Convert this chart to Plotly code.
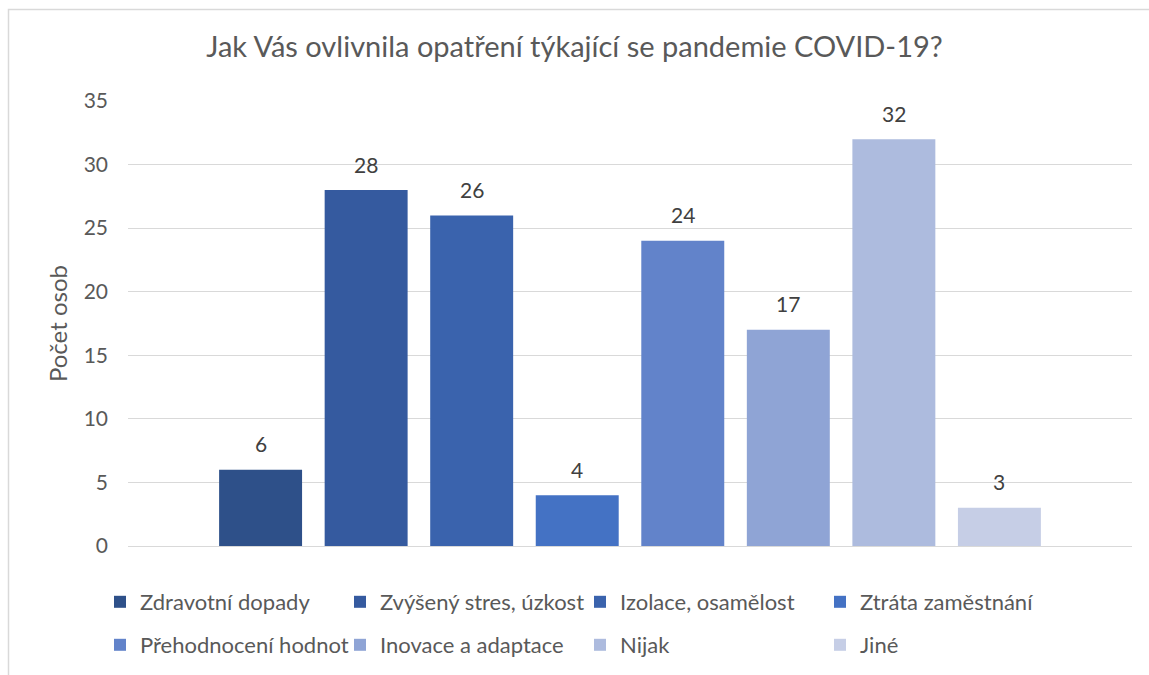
import plotly.graph_objects as go

# ---- data ----
categories = ["COVID-19"]
series_names = [
    "Zdravotní dopady",
    "Zvýšený stres, úzkost",
    "Izolace, osamělost",
    "Ztráta zaměstnání",
    "Přehodnocení hodnot",
    "Inovace a adaptace",
    "Nijak",
    "Jiné",
]
series_values = [6, 28, 26, 4, 24, 17, 32, 3]
y_tick_values = [0, 5, 10, 15, 20, 25, 30, 35]
y_tick_labels = ["0", "5", "10", "15", "20", "25", "30", "35"]
series_colors = [
    "#2E5089", "#355A9F", "#3A63AD", "#4472C4",
    "#6283CA", "#8FA4D5", "#ADBBDE", "#C6CEE6",
]

# ---- layout constants ----
W, H = 1149, 675
L, R, T, B = 128, 17, 101, 129
PW, PH = W - L - R, H - T - B
BARGAP = 0.159
BARGROUPGAP = 0.214
FONT = "Lato"
TXT = "#595959"
GRID = "#D9D9D9"

fig = go.Figure()
n = len(series_names)
for i, (name, val, col) in enumerate(zip(series_names, series_values, series_colors)):
    fig.add_trace(go.Bar(
        x=categories, y=[val], name=name,
        marker=dict(color=col, line=dict(width=0)),
        legend="legend" if i < 4 else "legend2",
        hovertemplate=name + ": %{y}<extra></extra>",
    ))

# data labels above the bars
slot_px = (1 - BARGAP) / n * PW
annotations = []
for i, val in enumerate(series_values):
    annotations.append(dict(
        x=categories[0], y=val, xref="x", yref="y",
        text=str(val), showarrow=False,
        xshift=(i - (n - 1) / 2) * slot_px, yshift=26,
        yanchor="middle", xanchor="center",
        font=dict(family=FONT, size=21, color="#404040"),
    ))

legend_common = dict(
    orientation="h", xref="container", yref="container",
    xanchor="left", yanchor="middle",
    entrywidth=195, entrywidthmode="pixels",
    font=dict(family=FONT, size=22, color=TXT),
    bgcolor="rgba(0,0,0,0)", borderwidth=0,
)

fig.update_layout(
    width=W, height=H,
    margin=dict(l=L, r=R, t=T, b=B, pad=0),
    paper_bgcolor="white", plot_bgcolor="white",
    barmode="group", bargap=BARGAP, bargroupgap=BARGROUPGAP,
    title=dict(
        text="Jak Vás ovlivnila opatření týkající se pandemie COVID-19?",
        x=0.5, xref="container", xanchor="center",
        y=1 - 47 / H, yref="container", yanchor="middle",
        font=dict(family=FONT, size=29, color=TXT),
    ),
    xaxis=dict(
        type="category", range=[-0.5, 0.5], showticklabels=False,
        showgrid=False, zeroline=False, showline=False, ticks="",
    ),
    yaxis=dict(
        range=[0, 35], tickmode="array",
        tickvals=y_tick_values, ticktext=y_tick_labels,
        showgrid=True, gridcolor=GRID, gridwidth=1.3,
        zeroline=True, zerolinecolor=GRID, zerolinewidth=1.3,
        showline=False, ticks="", ticklabelstandoff=19,
        tickfont=dict(family=FONT, size=21, color=TXT),
        title=dict(text="Počet osob", standoff=9,
                   font=dict(family=FONT, size=24, color=TXT)),
    ),
    legend=dict(legend_common, x=100 / W, y=1 - 602 / H),
    legend2=dict(legend_common, x=100 / W, y=1 - 645 / H),
    annotations=annotations,
    shapes=[dict(
        type="rect", xref="paper", yref="paper", layer="below",
        x0=(8.5 - L) / PW, x1=1.3,
        y0=-0.6, y1=(T + PH - 9.5) / PH,
        line=dict(color=GRID, width=1.5), fillcolor="rgba(0,0,0,0)",
    )],
)

fig.write_html(
    "out.html",
    config={"displayModeBar": False},
    post_script="document.body.style.margin='0';",
)
